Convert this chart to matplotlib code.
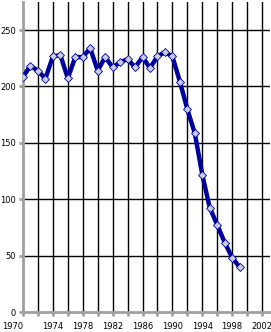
import matplotlib
matplotlib.use('Agg')
import matplotlib.pyplot as plt

years = list(range(1970, 2000))
values = [208.5, 218.4, 214, 207, 226.6, 227.8, 207.3, 226, 226, 233.9,
          214, 226, 217, 221.3, 224.3, 217, 226, 216.4, 226.6, 230.4,
          226.6, 204.4, 179.8, 158.6, 122, 92.6, 77.5, 61.8, 48.5, 40]

x_major = list(range(1970, 2003, 4))
x_minor = list(range(1970, 2003, 2))
y_ticks = [0, 50, 100, 150, 200, 250]

plt.rc('font', size=6, family='DejaVu Sans')
fig = plt.figure(figsize=(2.71, 3.32), dpi=100)
ax = fig.add_axes([23 / 271, 19.7 / 332, 246.5 / 271, 310.5 / 332])

ax.plot(years, values, color='#00009C', lw=3.2, marker='D', ms=4.4,
        mfc='#C8CCE0', mec='#00009C', mew=0.6, zorder=3)

ax.set_xlim(1970, 2003)
ax.set_ylim(0, 275)
ax.set_xticks(x_major)
ax.set_xticks(x_minor, minor=True)
ax.set_yticks(y_ticks)

for x in x_minor[1:]:
    ax.axvline(x, color='black', lw=1, zorder=1)
for y in y_ticks[1:]:
    ax.axhline(y, color='black', lw=1, zorder=1)

for side in ('top', 'right'):
    ax.spines[side].set_visible(False)
for side in ('left', 'bottom'):
    ax.spines[side].set_color('#A0A0A0')
    ax.spines[side].set_linewidth(2)
    ax.spines[side].set_zorder(2)

ax.tick_params(axis='both', which='both', color='#A0A0A0', width=2,
               length=3, labelsize=6, labelcolor='black', pad=2)
ax.tick_params(axis='x', which='major', pad=4)
ax.get_xticklabels()[0].set_ha('right')

fig.savefig('out.png', dpi=100)
